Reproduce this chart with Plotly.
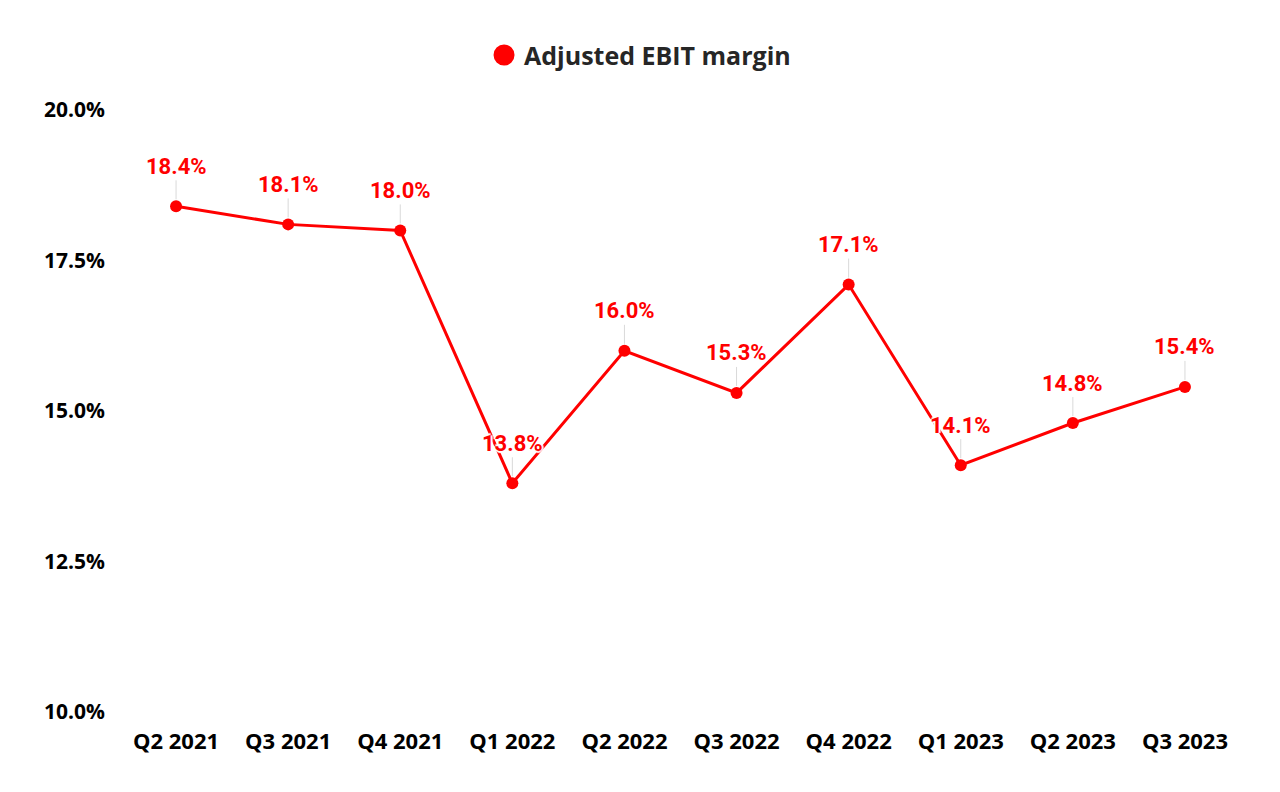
import plotly.graph_objects as go

quarters = ["Q2 2021", "Q3 2021", "Q4 2021", "Q1 2022", "Q2 2022",
            "Q3 2022", "Q4 2022", "Q1 2023", "Q2 2023", "Q3 2023"]
ebit_margin = [18.4, 18.1, 18.0, 13.8, 16.0, 15.3, 17.1, 14.1, 14.8, 15.4]
y_ticks = [10.0, 12.5, 15.0, 17.5, 20.0]
series_name = "Adjusted EBIT margin"

RED = "#FF0000"
halo = "2px 0px 1px white, -2px 0px 1px white, 0px 2px 1px white, 0px -2px 1px white"

fig = go.Figure()
fig.add_trace(go.Scatter(
    x=quarters, y=ebit_margin, mode="lines",
    line=dict(color=RED, width=3), showlegend=False, hoverinfo="skip"))
fig.add_trace(go.Scatter(
    x=quarters, y=ebit_margin, mode="markers", name=series_name,
    marker=dict(color=RED, size=12), showlegend=False))
# legend entry (larger dot as in the reference)
fig.add_trace(go.Scatter(
    x=[quarters[0]], y=[None], mode="markers", name=series_name,
    marker=dict(color=RED, size=16, line=dict(color=RED, width=5)),
    hoverinfo="skip"))

for q, v in zip(quarters, ebit_margin):
    fig.add_annotation(
        x=q, y=v, text=f"{v:.1f}%", showarrow=True, arrowhead=0,
        arrowwidth=1, arrowcolor="#d9d9d9", ax=0, ay=-40, standoff=7,
        font=dict(family="Roboto", size=22, color=RED, weight="bold", shadow=halo))

fig.update_layout(
    width=1280, height=792,
    margin=dict(l=120, r=39, t=110, b=80, autoexpand=False),
    paper_bgcolor="white", plot_bgcolor="white",
    legend=dict(orientation="h", xref="paper", x=0.4639, xanchor="center",
                y=1.091, yanchor="middle", yref="paper",
                font=dict(family="Open Sans", size=25, color="#262626", weight="bold")),
    xaxis=dict(type="category", categoryorder="array", categoryarray=quarters,
               range=[-0.5, len(quarters) - 0.5], tickangle=0,
               showgrid=False, zeroline=False, showline=False,
               ticks="", ticklabelstandoff=14, automargin=False,
               tickfont=dict(family="Open Sans", size=22, color="#000000", weight="bold")),
    yaxis=dict(range=[10, 20], tickvals=y_ticks,
               ticktext=[f"{t:.1f}%" for t in y_ticks],
               showgrid=False, zeroline=False, showline=False, ticks="",
               ticklabelstandoff=14, automargin=False,
               tickfont=dict(family="Open Sans", size=21, color="#000000", weight="bold")),
)

fig.write_html("out.html")
